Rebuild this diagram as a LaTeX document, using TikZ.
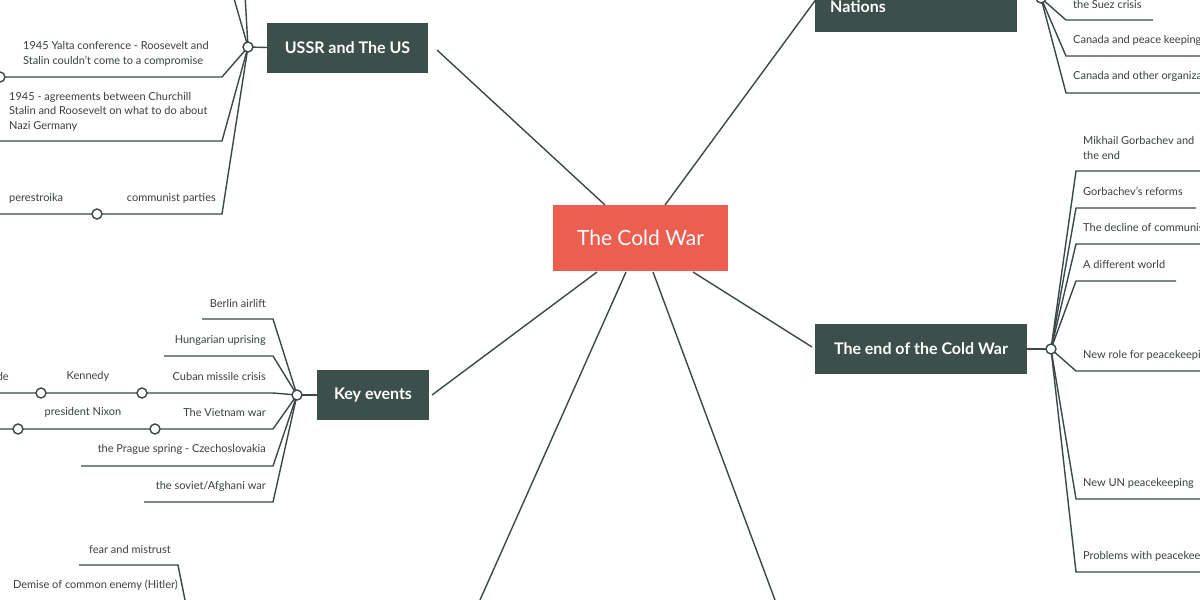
\documentclass[tikz,border=0pt]{standalone}
\usepackage{fontspec}
\setmainfont{Lato}
\begin{document}
\begin{tikzpicture}[x=1pt,y=-1pt,
  ln/.style={draw=lc,line width=1.4pt},
  dot/.style={circle,draw=lc,line width=1.4pt,fill=white,minimum size=10pt,inner sep=0pt},
  topic/.style={fill=dk,text=white,font=\bfseries\fontsize{16}{19}\selectfont,minimum height=50pt,inner sep=0pt},
  lt/.style={font=\fontsize{11}{14.5}\selectfont,text=tc,inner sep=0pt,align=left},
  rt/.style={font=\fontsize{11}{14.5}\selectfont,text=tc,inner sep=0pt,align=right}]
\definecolor{lc}{HTML}{3B4848}
\definecolor{dk}{HTML}{3C4F4B}
\definecolor{rd}{HTML}{EC5E50}
\definecolor{tc}{HTML}{3A3F3F}
\useasboundingbox (0,0) rectangle (1200,600);
\clip (0,0) rectangle (1200,600);
% main nodes
\node[fill=rd,text=white,minimum width=175pt,minimum height=66pt,font=\fontsize{21}{25}\selectfont] (c) at (640.5,238) {The Cold War};
\node[topic,minimum width=161pt] (us) at (347.5,47.5) {USSR and The US};
\node[topic,minimum width=202pt,minimum height=54pt,anchor=south west] (un) at (815,32) {};
\node[font=\bfseries\fontsize{16}{19}\selectfont,text=white,anchor=west,inner sep=0pt] (unt) at (830,7) {Nations};
\node[topic,minimum width=212pt] (end) at (921,349) {The end of the Cold War};
\node[topic,minimum width=112pt] (ke) at (373,395) {Key events};
\coordinate (b1) at (480,600); \coordinate (b2) at (775,600);
\draw[ln] (605,205) -- (437,50);
\draw[ln] (665,205) -- (817,-2);
\draw[ln] (693,272) -- (812,347);
\draw[ln] (597,272) -- (432,395);
\draw[ln] (626,272) -- (b1);
\draw[ln] (653,272) -- (b2);
% USSR branch
\coordinate (usd) at (248,47);
\draw[ln] (us.west) -- (usd);
\draw[ln] (usd) -- (233,-5);
\draw[ln] (usd) -- (245,-5);
\draw[ln] (usd) -- (222,77) -- (0,77);
\draw[ln] (usd) -- (222,141) -- (0,141);
\draw[ln] (usd) -- (222,214) -- (0,214);
\node[dot] (usc) at (usd) {};
\node[dot] (y1) at (0,77) {};
\node[dot] (cp) at (97,214) {};
\node[lt,anchor=west] (ty) at (23,54) {1945 Yalta conference - Roosevelt and\\Stalin couldn't come to a compromise};
\node[lt,anchor=west] (ta) at (9,111.5) {1945 - agreements between Churchill\\Stalin and Roosevelt on what to do about\\Nazi Germany};
\node[rt,anchor=east] (tcp) at (216,198) {communist parties};
\node[lt,anchor=west] (tp) at (9,198) {perestroika};
% UN branch
\coordinate (und) at (1041,-2);
\draw[ln] (1017,-2) -- (und);
\draw[ln] (und) -- (1066,20) -- (1153,20);
\draw[ln] (und) -- (1066,56) -- (1210,56);
\draw[ln] (und) -- (1066,93) -- (1210,93);
\node[dot] (unc) at (und) {};
\node[lt,anchor=west] (s1) at (1073,4) {the Suez crisis};
\node[lt,anchor=west] (s2) at (1073,40) {Canada and peace keeping};
\node[lt,anchor=west] (s3) at (1073,76) {Canada and other organizations};
% End branch
\coordinate (ed) at (1051,349);
\draw[ln] (end.east) -- (ed);
\foreach \y/\e in {171/1210,208/1196,244/1210,281/1176,371/1210,499/1210,572/1210}
  \draw[ln] (ed) -- (1076,\y) -- (\e,\y);
\node[dot] (edc) at (ed) {};
\node[lt,anchor=west] (e1) at (1083,148) {Mikhail Gorbachev and\\the end};
\node[lt,anchor=west] (e2) at (1083,191) {Gorbachev's reforms};
\node[lt,anchor=west] (e3) at (1083,227) {The decline of communism};
\node[lt,anchor=west] (e4) at (1083,264) {A different world};
\node[lt,anchor=west] (e5) at (1083,355) {New role for peacekeeping};
\node[lt,anchor=west] (e6) at (1083,483) {New UN peacekeeping};
\node[lt,anchor=west] (e7) at (1083,556) {Problems with peacekeeping};
% Key events branch
\coordinate (kd) at (297,395);
\draw[ln] (ke.west) -- (kd);
\draw[ln] (kd) -- (273,319) -- (202,319);
\draw[ln] (kd) -- (273,356) -- (164,356);
\draw[ln] (kd) -- (273,393) -- (0,393);
\draw[ln] (kd) -- (273,429) -- (0,429);
\draw[ln] (kd) -- (273,466) -- (81,466);
\draw[ln] (kd) -- (273,502) -- (144,502);
\node[dot] (kc) at (kd) {};
\node[dot] (k1) at (142,393) {};
\node[dot] (k2) at (41,393) {};
\node[dot] (k3) at (155,429) {};
\node[dot] (k4) at (18,429) {};
\node[rt,anchor=east] (a1) at (266,303) {Berlin airlift};
\node[rt,anchor=east] (a2) at (266,340) {Hungarian uprising};
\node[rt,anchor=east] (a3) at (266,376) {Cuban missile crisis};
\node[lt] (a3b) at (88,376) {Kennedy};
\node[rt,anchor=east] (a3c) at (9,376) {blockade};
\node[rt,anchor=east] (a4) at (266,412) {The Vietnam war};
\node[lt] (a4b) at (83,412) {president Nixon};
\node[rt,anchor=east] (a5) at (266,449) {the Prague spring - Czechoslovakia};
\node[rt,anchor=east] (a6) at (266,486) {the soviet/Afghani war};
% bottom left
\draw[ln] (79,565) -- (178,565) -- (189,620);
\node[rt,anchor=east] (f1) at (171,549) {fear and mistrust};
\node[rt,anchor=east] (f2) at (178,585) {Demise of common enemy (Hitler)};
\end{tikzpicture}
\end{document}
